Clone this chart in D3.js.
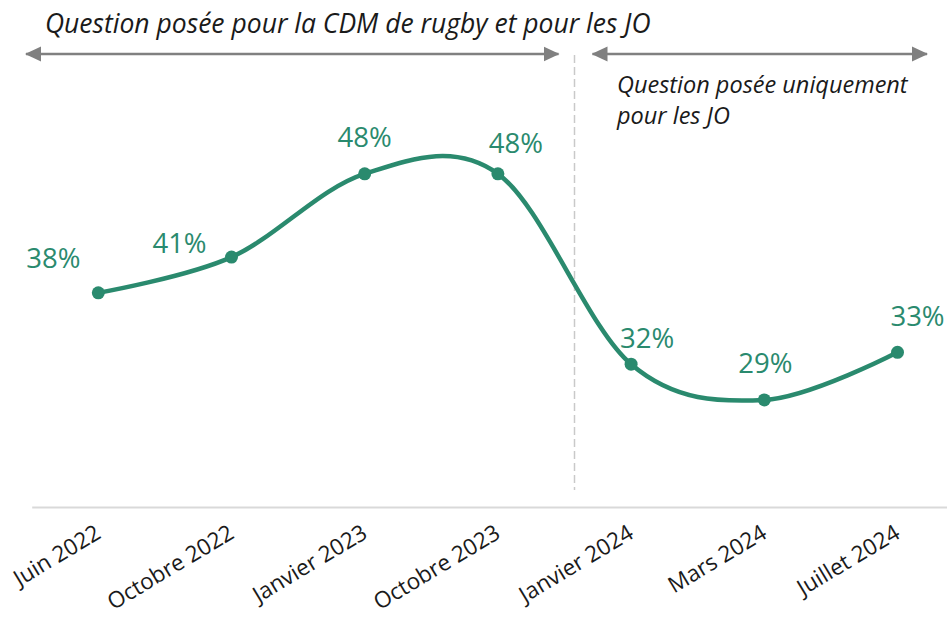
<!DOCTYPE html>
<html><head><meta charset="utf-8">
<script src="https://cdn.jsdelivr.net/npm/d3@7"></script>
<style>body{margin:0;background:#fff} svg{display:block}</style>
</head><body><svg id="c" width="947" height="617"></svg>
<script>
// ---- data ----
const categories = ["Juin 2022","Octobre 2022","Janvier 2023","Octobre 2023","Janvier 2024","Mars 2024","Juillet 2024"];
const values = [38,41,48,48,32,29,33];
const valueLabels = ["38%","41%","48%","48%","32%","29%","33%"];
const yDomain = [20,60];
const headerLeft = "Question posée pour la CDM de rugby et pour les JO";
const headerRight = ["Question posée uniquement","pour les JO"];
const firstJOOnly = "Janvier 2024";

// ---- layout ----
const W = 947, H = 617;
const green = "#2a8a6e";
const FONT = "'Open Sans', 'Noto Sans', sans-serif";
const svg = d3.select("#c");
const x = d3.scaleBand().domain(categories).range([31.7, 964.1]);
const y = d3.scaleLinear().domain(yDomain).range([507, 31]);
const cx = c => x(c) + x.bandwidth() / 2;
const labelOffsets = [[-45,-25],[-52,-4],[0,-27],[18,-21],[16,-16],[1,-27],[20,-26]];

// axis
const axis = svg.append("g").attr("transform", `translate(0,${y(yDomain[0])})`)
  .call(d3.axisBottom(x).tickSize(0));
axis.select(".domain").attr("stroke", "#d9d9d9").attr("stroke-width", 2);
axis.selectAll(".tick text")
  .attr("x", 0).attr("y", 0).attr("dy", 0)
  .attr("transform", "translate(4,30) rotate(-31)")
  .attr("text-anchor", "end")
  .style("font-family", FONT).style("font-size", "22.5px").attr("fill", "#1a1a1a");

// divider
const divX = x(firstJOOnly) + 10;
svg.append("line").attr("x1", divX).attr("x2", divX).attr("y1", 55).attr("y2", 490)
  .attr("stroke", "#c9c9c9").attr("stroke-width", 1.5).attr("stroke-dasharray", "8,4");

// arrows
const defs = svg.append("defs");
defs.append("marker").attr("id", "ah").attr("viewBox", "0 0 16 16").attr("refX", 15).attr("refY", 8)
  .attr("markerWidth", 16).attr("markerHeight", 16).attr("markerUnits", "userSpaceOnUse")
  .attr("orient", "auto-start-reverse")
  .append("path").attr("d", "M0,0.5 L16,8 L0,15.5 Z").attr("fill", "#808080");
const arrowY = 54;
[[26, divX - 16], [divX + 18, 927]].forEach(([a, b]) => {
  svg.append("line").attr("x1", a).attr("x2", b).attr("y1", arrowY).attr("y2", arrowY)
    .attr("stroke", "#808080").attr("stroke-width", 2.5)
    .attr("marker-start", "url(#ah)").attr("marker-end", "url(#ah)");
});

// header texts
svg.append("text").attr("x", 45).attr("y", 33).text(headerLeft)
  .style("font-family", FONT).style("font-style", "italic").style("font-size", "26.5px").attr("fill", "#1a1a1a");
svg.append("text").attr("x", 617).attr("y", 93).selectAll("tspan").data(headerRight).join("tspan")
  .attr("x", 617).attr("dy", (d, i) => i ? 31 : 0).text(d => d)
  .style("font-family", FONT).style("font-style", "italic").style("font-size", "23.5px").attr("fill", "#1a1a1a");

// line
const pts = categories.map((c, i) => ({c, v: values[i], l: valueLabels[i], o: labelOffsets[i]}));
const line = d3.line().x(d => cx(d.c)).y(d => y(d.v)).curve(d3.curveCardinal.tension(0));
svg.append("path").datum(pts).attr("d", line).attr("fill", "none")
  .attr("stroke", green).attr("stroke-width", 4.5).attr("stroke-linecap", "round");
svg.selectAll("circle.pt").data(pts).join("circle").attr("class", "pt")
  .attr("cx", d => cx(d.c)).attr("cy", d => y(d.v)).attr("r", 6.5).attr("fill", green);
svg.selectAll("text.lbl").data(pts).join("text").attr("class", "lbl")
  .attr("x", d => cx(d.c) + d.o[0]).attr("y", d => y(d.v) + d.o[1])
  .attr("text-anchor", "middle").text(d => d.l)
  .style("font-family", FONT).style("font-size", "27.5px").attr("fill", green);
</script></body></html>
